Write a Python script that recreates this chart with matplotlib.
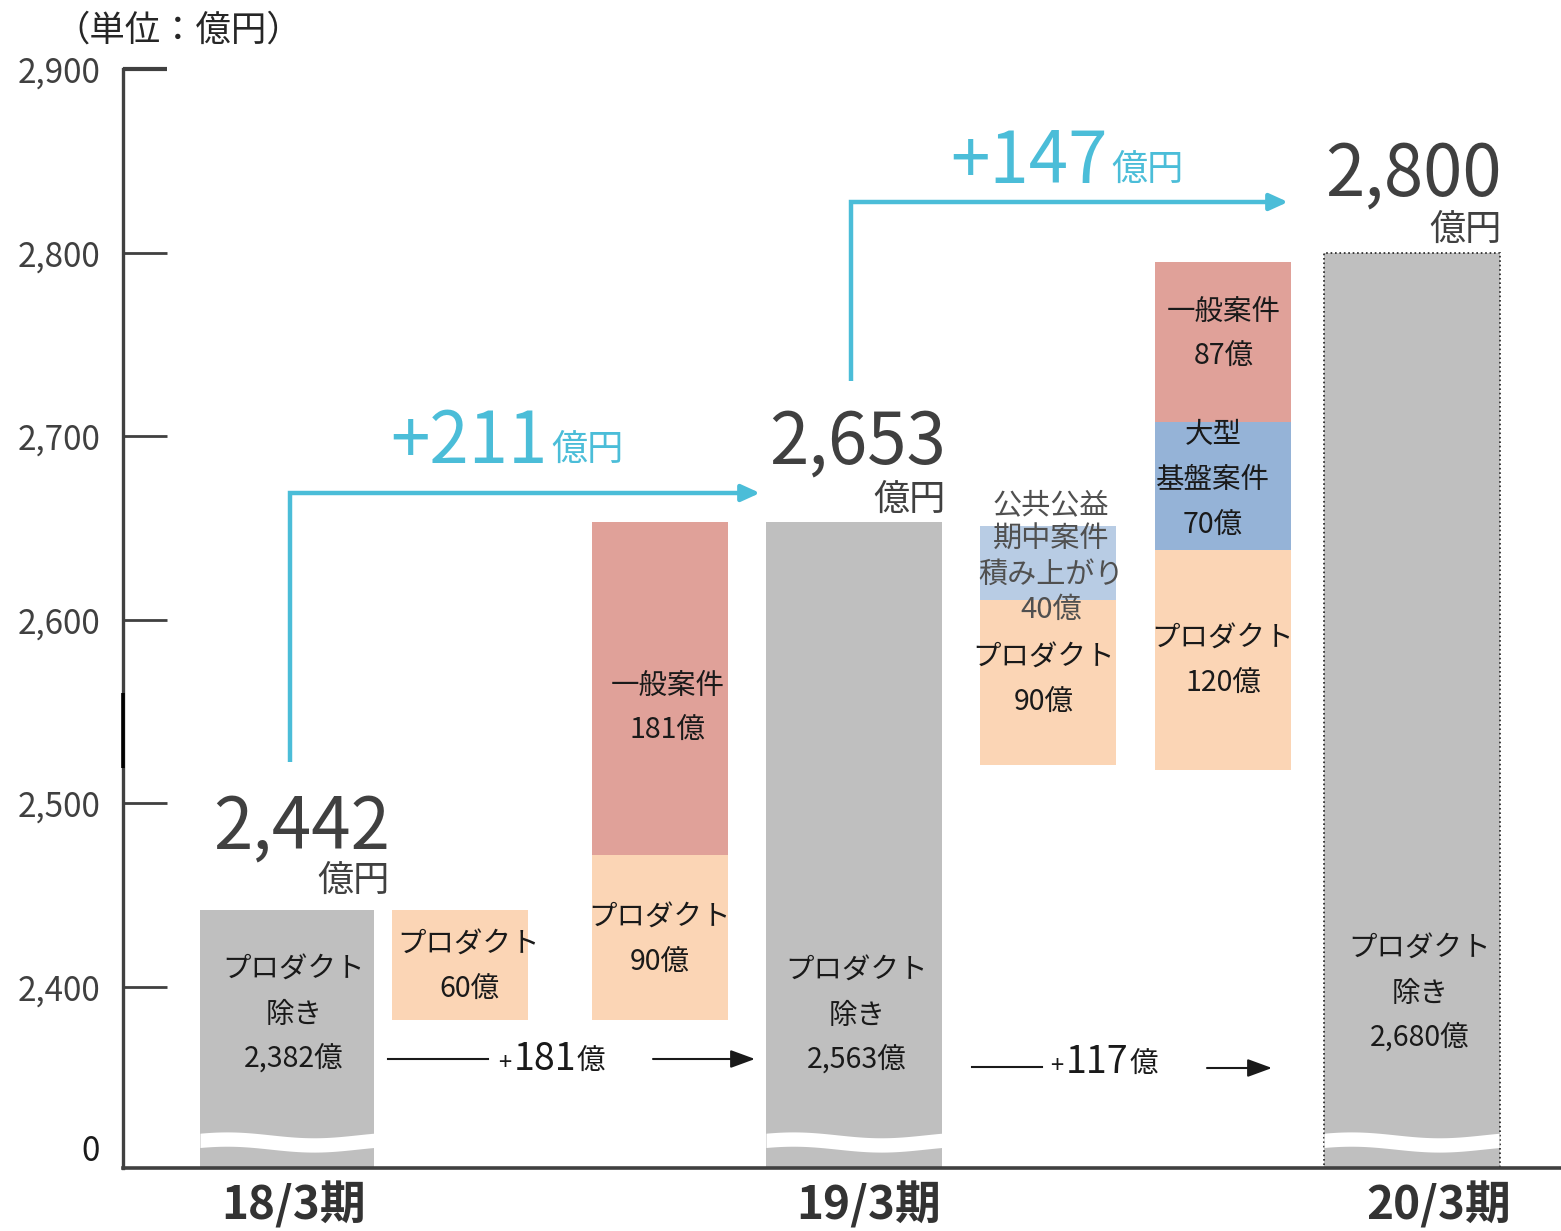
import matplotlib
matplotlib.use('Agg')
import matplotlib.pyplot as plt
import numpy as np

plt.rcParams['font.family'] = ['Noto Sans CJK JP', 'DejaVu Sans']

# ---------------- data ----------------
periods = ['18/3期', '19/3期', '20/3期']
totals = [2442, 2653, 2800]              # 売上 (億円)
ex_product = [2382, 2563, 2680]          # プロダクト除き
total_growth = [211, 147]                # 期間増加 (億円)
base_growth = [181, 117]                 # プロダクト除き増加 (億)

# increment segments
seg_cols = [1, 2, 2, 4, 4, 5, 5, 5]
seg_kinds = ['product', 'product', 'general', 'product', 'public',
             'product', 'large', 'general']
seg_values = [60, 90, 181, 90, 40, 120, 70, 87]
col_base = {1: 2382, 2: 2382, 4: 2521, 5: 2518}

kind_names = {'product': ['プロダクト'], 'general': ['一般案件'],
              'public': ['公共公益', '期中案件', '積み上がり'],
              'large': ['大型', '基盤案件']}
kind_colors = {'product': '#FBD5B5', 'general': '#E0A199',
               'public': '#B8CCE4', 'large': '#95B3D7'}

# ---------------- layout ----------------
W, H = 1561, 1231
PX = 1.836           # pixels per 億円
def Y(py):           # pixel row -> data value
    return 2400 + (987 - py) / PX

ylo, yhi = Y(1168), Y(0)
col_x = [287, 460, 660, 854, 1048, 1223, 1412]
col_w = [174, 136, 136, 176, 136, 136, 176]
total_cols = [0, 3, 6]

GRAY = '#BFBFBF'
CYAN = '#4BBDD8'
DARK = '#404040'
TXT = '#1A1A1A'

fig = plt.figure(figsize=(W / 100, H / 100), dpi=100)
ax = fig.add_axes([123 / W, (H - 1168) / H, (W - 123) / W, 1168 / H])
ax.set_xlim(123, W)
ax.set_ylim(ylo, yhi)

# gray total bars
for i, c in enumerate(total_cols):
    last = (i == len(total_cols) - 1)
    ax.bar(col_x[c], totals[i] - ylo, bottom=ylo, width=col_w[c],
           color=GRAY, edgecolor='#202020' if last else 'none',
           linestyle=':' if last else '-', linewidth=1.2 if last else 0,
           zorder=2)
    # axis-break wave
    left = col_x[c] - col_w[c] / 2
    xs = np.linspace(left, left + col_w[c] + (0 if not last else -1), 120)
    ctr = Y(1142) + 1.6 * np.sin(2 * np.pi * (xs - left) / col_w[c] + 0.6)
    ax.fill_between(xs, ctr - 3.9, ctr + 3.9, color='white', lw=0, zorder=3)

# increment segments
running = dict(col_base)
for c, k, v in zip(seg_cols, seg_kinds, seg_values):
    ax.bar(col_x[c], v, bottom=running[c], width=col_w[c],
           color=kind_colors[k], lw=0, zorder=2)
    running[c] += v

# ---------------- labels inside bars ----------------
def label(x, yc_px, lines, pitch_px=45, size=20.5, color=TXT):
    n = len(lines)
    for j, s in enumerate(lines):
        py = yc_px + (j - (n - 1) / 2) * pitch_px
        ax.text(x, Y(py), s, ha='center', va='center', fontsize=size,
                color=color, zorder=5)

gray_label_pos = [(294, 1015), (857, 1016), (1420, 994)]
for (x, yc), v in zip(gray_label_pos, ex_product):
    label(x, yc, ['プロダクト', '除き', f'{v:,}億'])

seg_label_pos = [(469, 967.5), (660, 940.5), (668, 708.5), (1044, 680.5),
                 (1051, 557.5), (1223, 661.5), (1213, 480.5), (1224, 334.5)]
for (x, yc), k, v in zip(seg_label_pos, seg_kinds, seg_values):
    if k == 'public':
        label(x, yc, kind_names[k] + [f'{v}億'], pitch_px=35, size=21,
              color='#505050')
    else:
        label(x, yc, kind_names[k] + [f'{v}億'])

# ---------------- totals ----------------
tot_pos = [(390, 848, 881), (946, 464, 500), (1502, 196, 230)]
for (xr, base_py, unit_py), v in zip(tot_pos, totals):
    ax.text(xr, Y(base_py), f'{v:,}', ha='right', va='baseline',
            fontsize=51, color=DARK, zorder=5)
    ax.text(xr, Y(unit_py), '億円', ha='right', va='center',
            fontsize=26, color=DARK, zorder=5)

# ---------------- cyan growth arrows ----------------
cyan_paths = [(290, 762, 493, 760), (851, 381, 202, 1288)]
growth_text = [(548, 463), (1108, 183)]
for (x0, y0, y1, x1), (xr, bpy), g in zip(cyan_paths, growth_text, total_growth):
    ax.plot([x0, x0, x1 - 8], [Y(y0), Y(y1), Y(y1)], color=CYAN, lw=3.2,
            solid_joinstyle='miter', solid_capstyle='butt', zorder=4)
    ax.annotate('', xy=(x1, Y(y1)), xytext=(x1 - 20, Y(y1)),
                arrowprops=dict(arrowstyle='-|>,head_length=1.1,head_width=0.5',
                                mutation_scale=10, color=CYAN, lw=3.2,
                                shrinkA=0, shrinkB=0), zorder=4)
    ax.text(xr, Y(bpy), f'+{g}', ha='right', va='baseline', fontsize=51,
            color=CYAN, zorder=5)
    ax.text(xr + 3, Y(bpy - 3), '億円', ha='left', va='baseline',
            fontsize=26, color=CYAN, zorder=5)

# ---------------- black base-growth arrows ----------------
black_segs = [((388, 488), (653, 755), 1059, 1059),
              ((972, 1042), (1207, 1272), 1067, 1068)]
base_text = [(505, 545, 577, 1070), (1057, 1097, 1130, 1073)]
for (l1, l2, yl, ya), (xp, xn, xu, bpy), g in zip(black_segs, base_text, base_growth):
    ax.plot(l1, [Y(yl), Y(yl)], color=TXT, lw=1.5, zorder=4)
    ax.annotate('', xy=(l2[1], Y(ya)), xytext=(l2[0], Y(ya)),
                arrowprops=dict(arrowstyle='-|>,head_length=1.5,head_width=0.55',
                                mutation_scale=10, color=TXT, lw=1.5,
                                shrinkA=0, shrinkB=0), zorder=4)
    ax.text(xp, Y(bpy), '+', ha='center', va='baseline', fontsize=17,
            color=TXT, zorder=5)
    ax.text(xn, Y(bpy), f'{g}', ha='center', va='baseline', fontsize=27,
            color=TXT, zorder=5)
    ax.text(xu, Y(bpy), '億', ha='left', va='baseline', fontsize=20.5,
            color=TXT, zorder=5)

# ---------------- axes ----------------
for s in ['top', 'right']:
    ax.spines[s].set_visible(False)
ax.spines['left'].set_bounds(ylo, 2900)
ax.spines['left'].set_linewidth(2.4)
ax.spines['left'].set_color(DARK)
ax.spines['bottom'].set_linewidth(2.6)
ax.spines['bottom'].set_color(DARK)
ax.plot([123, 123], [Y(693), Y(768)], color='black', lw=2.6, zorder=6,
        clip_on=False, solid_capstyle='butt')

yticks = [2400, 2500, 2600, 2700, 2800, 2900]
ax.set_yticks(yticks, [f'{t:,}' for t in yticks])
ax.tick_params(axis='y', direction='in', length=32, width=2, color=DARK,
               labelsize=24, labelcolor=DARK, pad=16)
# heavier top tick (axis cap)
ax.yaxis.get_major_ticks()[-1].tick1line.set_markeredgewidth(3)
ax.text(100, Y(1152), '0', ha='right', va='center', fontsize=24, color=TXT)

ax.set_xticks([293.5, 869, 1438.5], periods)
ax.tick_params(axis='x', length=0, pad=10, labelsize=33, labelcolor='#333333')
for t in ax.get_xticklabels():
    t.set_fontweight('bold')

fig.text(178 / W, 1 - 31 / H, '（単位：億円）', ha='center', va='center',
         fontsize=25.5, color='#262626')

fig.savefig('out.png', dpi=100)
